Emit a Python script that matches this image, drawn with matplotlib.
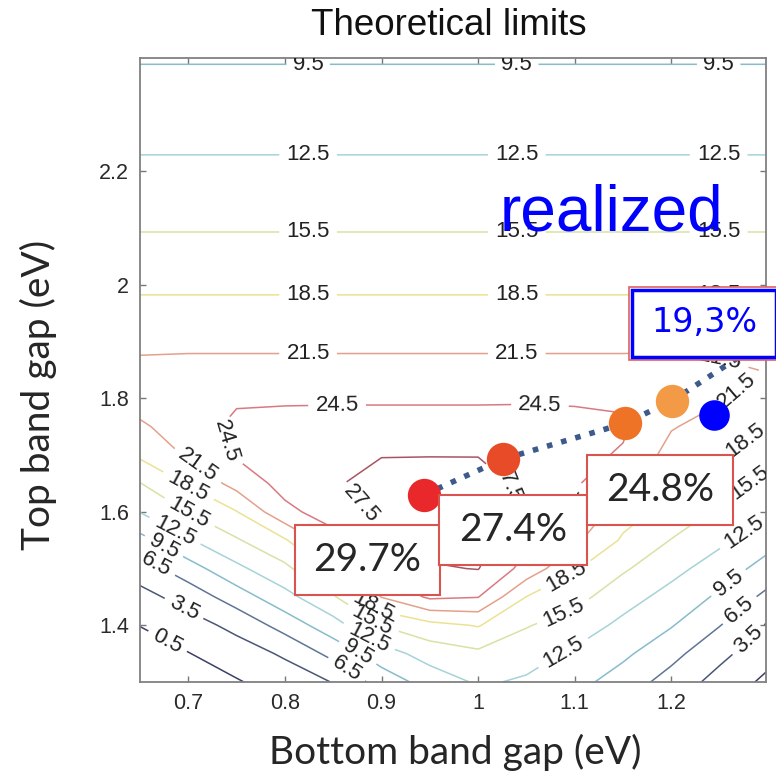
import numpy as np
import matplotlib.pyplot as plt
from matplotlib.patches import Rectangle

# grid (efficiency in %)
bottom_gap = [0.65, 0.70, 0.75, 0.80, 0.85, 0.90, 0.95, 1.00, 1.05, 1.10, 1.15, 1.20, 1.25, 1.30]
top_gap = [1.30, 1.35, 1.40, 1.45, 1.50, 1.55, 1.60, 1.65, 1.70, 1.75, 1.80, 1.85, 1.90,
           2.0, 2.1, 2.2, 2.3, 2.4]

# one column per bottom gap, rows 1.30 .. 1.90
eff_low = [
    [-3.8, -1.6, 0.6, 2.5, 5.0, 8.5, 12.6, 15.4, 19.0, 21.05, 22.8, 22.2, 20.85],
    [-1.5, 0.4, 2.3, 4.7, 8.2, 12.2, 15.6, 18.8, 21.9, 23.0, 23.6, 22.4, 20.85],
    [0.25, 2.1, 4.3, 8.0, 11.8, 15.2, 18.4, 22.6, 24.8, 25.2, 24.1, 22.4, 20.85],
    [1.9, 3.9, 7.7, 11.5, 14.8, 18.2, 23.8, 25.5, 26.0, 25.6, 24.1, 22.4, 20.85],
    [3.6, 7.4, 11.3, 15.1, 19.25, 23.5, 25.8, 27.2, 27.0, 25.8, 24.1, 22.4, 20.85],
    [7.8, 11.1, 15.6, 21.6, 25.2, 26.8, 28.2, 28.5, 27.4, 25.8, 24.1, 22.4, 20.85],
    [10.7, 13.8, 17.6, 25.0, 27.2, 28.6, 29.3, 29.0, 27.4, 25.8, 24.1, 22.4, 20.85],
    [12.9, 14.9, 18.7, 24.6, 27.6, 28.5, 29.0, 28.8, 27.4, 25.8, 24.1, 22.4, 20.85],
    [12.1, 13.7, 15.7, 18.45, 23.4, 25.3, 26.2, 26.8, 26.8, 26.0, 24.1, 22.4, 20.85],
    [10.5, 12.0, 14.1, 16.5, 18.8, 22.1, 24.7, 25.0, 25.3, 25.5, 24.1, 22.4, 20.85],
    [8.1, 10.1, 11.8, 13.7, 15.9, 18.1, 19.7, 21.2, 24.2, 24.9, 24.07, 22.4, 20.85],
    [5.3, 7.4, 9.7, 11.5, 13.4, 15.4, 17.5, 19.1, 20.4, 21.7, 23.3, 22.5, 20.85],
    [2.4, 4.3, 6.6, 9.0, 11.1, 13.1, 15.0, 16.9, 18.8, 20.3, 21.8, 21.9, 20.85],
    [-0.2, 1.5, 3.2, 5.7, 8.3, 10.6, 12.8, 14.6, 16.4, 18.3, 20.1, 21.4, 20.85],
]
# rows 2.0 .. 2.4 do not depend on the bottom gap
eff_high = [18.0, 15.32, 13.08, 11.1, 9.3]

levels = [0.5, 3.5, 6.5, 9.5, 12.5, 15.5, 18.5, 21.5, 24.5, 27.5]
level_colors = ['#3c3f66', '#4b5578', '#5f7596', '#86bccb', '#a5d3d8',
                '#d6e3a4', '#ebe294', '#e3a18c', '#d97a80', '#a85560']

# realized devices
dev_x = [0.944, 1.026, 1.152, 1.201]
dev_y = [1.630, 1.693, 1.756, 1.796]
dev_colors = ['#e8282a', '#e84b28', '#ee7326', '#f29a45']
dev_labels = ['29.7%', '27.4%', '24.8%']
blue_x, blue_y = 1.244, 1.771
trend_end = (1.272, 1.875)
realized_label = '19,3%'

Z = np.array([col + eff_high for col in eff_low]).T

fig = plt.figure(figsize=(7.76, 7.76), dpi=100)
ax = fig.add_axes([140 / 776, 1 - 682 / 776, 626 / 776, 624 / 776])

cs = ax.contour(bottom_gap, top_gap, Z, levels=levels, colors=level_colors, linewidths=1.1)

label_pos = [
    (0.824, 2.388), (1.040, 2.388), (1.249, 2.388),
    (0.824, 2.226), (1.040, 2.226), (1.249, 2.226),
    (0.824, 2.092), (1.040, 2.092), (1.249, 2.092),
    (0.824, 1.982), (1.040, 1.982), (1.249, 1.982),
    (0.824, 1.877), (1.040, 1.877), (1.250, 1.862),
    (0.854, 1.788), (1.064, 1.788), (0.728, 1.717),
    (0.868, 1.60), (1.045, 1.68), (1.105, 1.60),
    (0.705, 1.670), (0.695, 1.629), (0.700, 1.595), (0.687, 1.569),
    (0.673, 1.534), (0.666, 1.505), (0.695, 1.428), (0.678, 1.370),
    (0.894, 1.44), (0.889, 1.405), (0.884, 1.37), (0.873, 1.344), (0.863, 1.32),
    (1.092, 1.485), (1.090, 1.417), (1.088, 1.352),
    (1.273, 1.805), (1.277, 1.726), (1.281, 1.652), (1.275, 1.564),
    (1.260, 1.473), (1.271, 1.426), (1.279, 1.376),
]
ax.clabel(cs, manual=label_pos, inline=True, inline_spacing=4,
          fmt=lambda v: f'{v:.1f}', fontsize=16, colors='#222222')
for t in cs.labelTexts:
    t.set_family('Liberation Sans')

# dotted trend through the devices
ax.plot(dev_x + [trend_end[0]], dev_y + [trend_end[1]], ':', color='#3d5a8c',
        linewidth=4, zorder=3)
for x, y, c in zip(dev_x, dev_y, dev_colors):
    ax.plot(x, y, 'o', color=c, markersize=24, markeredgewidth=0, zorder=4)
ax.plot(blue_x, blue_y, 'o', color='#0000ff', markersize=22, markeredgewidth=0, zorder=4)

# efficiency boxes
boxes = [(0.810, 1.453, 0.151, 0.123), (0.960, 1.506, 0.153, 0.123), (1.113, 1.576, 0.151, 0.125)]
for (x0, y0, w, h), txt in zip(boxes, dev_labels):
    ax.add_patch(Rectangle((x0, y0), w, h, facecolor='white', edgecolor='#d9534f',
                           linewidth=1.5, zorder=5))
    ax.text(x0 + w / 2, y0 + h / 2, txt, ha='center', va='center', fontsize=28,
            family='Lato', color='#262626', zorder=6)

ax.add_patch(Rectangle((1.156, 1.868), 0.155, 0.128, facecolor='white', edgecolor='#e06060',
                       linewidth=1.2, zorder=5, clip_on=False))
ax.add_patch(Rectangle((1.159, 1.873), 0.149, 0.118, facecolor='none', edgecolor='#0000ff',
                       linewidth=2.5, zorder=6, clip_on=False))
ax.text(1.234, 1.933, realized_label, ha='center', va='center', fontsize=24,
        color='#0000ff', zorder=7, clip_on=False)

ax.text(1.138, 2.096, 'realized', ha='center', va='baseline', fontsize=46,
        family='Liberation Sans', color='#0000ff', zorder=7)

ax.set_xlim(0.65, 1.298)
ax.set_ylim(1.30, 2.40)
ax.set_xticks([0.7, 0.8, 0.9, 1.0, 1.1, 1.2])
ax.set_xticklabels(['0.7', '0.8', '0.9', '1', '1.1', '1.2'])
ax.set_yticks([1.4, 1.6, 1.8, 2.0, 2.2])
ax.set_yticklabels(['1.4', '1.6', '1.8', '2', '2.2'])
ax.tick_params(direction='in', length=4, width=1, color='#777777', top=True, right=True,
               labelsize=15.5, labelcolor='#2a2a2a', pad=8)
for lab in ax.get_xticklabels() + ax.get_yticklabels():
    lab.set_family('Liberation Sans')
for s in ax.spines.values():
    s.set_color('#808080')
    s.set_linewidth(1.3)

fig.text(449 / 776, 1 - 35 / 776, 'Theoretical limits', ha='center', va='baseline',
         fontsize=26.5, family='Liberation Sans', color='#111111')
fig.text(38 / 776, 1 - 395 / 776, 'Top band gap (eV)', rotation=90, ha='center', va='center',
         fontsize=28, family='Lato', color='#262626')
fig.text(455 / 776, 1 - 752 / 776, 'Bottom band gap (eV)', ha='center', va='center',
         fontsize=28, family='Lato', color='#262626')

fig.savefig('out.png', dpi=100)
